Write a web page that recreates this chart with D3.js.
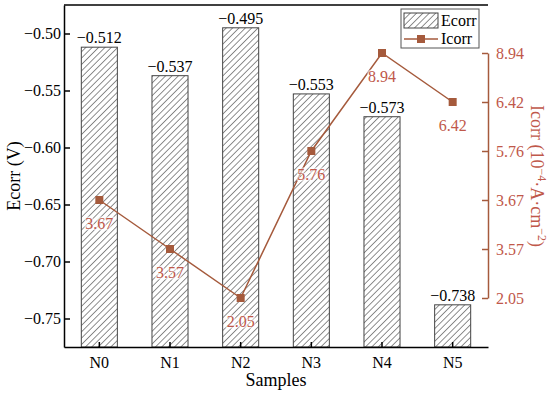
<html>
<head>
<meta charset="utf-8">
<script src="https://d3js.org/d3.v7.min.js"></script>
<style>
  body { margin: 0; background: #fff; }
  svg text { font-family: "Liberation Serif", "Times New Roman", serif; }
</style>
</head>
<body>
<div id="chart"></div>
<script>
// data
var samples = ["N0", "N1", "N2", "N3", "N4", "N5"];
var ecorr = [-0.512, -0.537, -0.495, -0.553, -0.573, -0.738];
var icorr = [3.67, 3.57, 2.05, 5.76, 8.94, 6.42];
var leftTicks = [-0.50, -0.55, -0.60, -0.65, -0.70, -0.75];
// right axis is ranked, labels are just the values sorted
var rightTicks = icorr.slice().sort(function(a, b) { return a - b; });

var W = 550, H = 393;
var margin = {top: 5, right: 62, bottom: 46, left: 64};
var width = W - margin.left - margin.right;
var height = H - margin.top - margin.bottom;
var brown = "#a55a3c";
var redText = "#c0584a";
var serif = "Liberation Serif, Times New Roman, serif";

var svg = d3.select("#chart").append("svg")
    .attr("width", W).attr("height", H)
    .attr("font-family", serif);

var defs = svg.append("defs");
var pat = defs.append("pattern")
    .attr("id", "hatch")
    .attr("patternUnits", "userSpaceOnUse")
    .attr("width", 4.5).attr("height", 4.5)
    .attr("patternTransform", "rotate(45)");
pat.append("rect").attr("width", 4.5).attr("height", 4.5).attr("fill", "#fff");
pat.append("line")
    .attr("x1", 0).attr("y1", 0).attr("x2", 0).attr("y2", 4.5)
    .attr("stroke", "#333").attr("stroke-width", 1.1);

var g = svg.append("g")
    .attr("transform", "translate(" + margin.left + "," + margin.top + ")");

var x = d3.scaleBand().domain(samples).range([0, width])
    .paddingInner(0.49).paddingOuter(0.245);
var y = d3.scaleLinear().domain([-0.775, -0.475]).range([height, 0]);
var y2 = d3.scalePoint().domain(rightTicks).range([293, 48]);

// bars
g.selectAll("rect.bar")
    .data(ecorr)
    .enter().append("rect")
    .attr("class", "bar")
    .attr("x", function(d, i) { return x(samples[i]); })
    .attr("width", x.bandwidth())
    .attr("y", function(d) { return y(d); })
    .attr("height", function(d) { return height - y(d); })
    .attr("fill", "url(#hatch)")
    .attr("stroke", "#444")
    .attr("stroke-width", 1);

g.selectAll("text.blab")
    .data(ecorr)
    .enter().append("text")
    .attr("class", "blab")
    .attr("x", function(d, i) { return x(samples[i]) + x.bandwidth() / 2; })
    .attr("y", function(d) { return y(d) - 4; })
    .attr("text-anchor", "middle")
    .attr("font-size", 16)
    .text(function(d) { return d3.format(".3f")(d).replace("-", "\u2212"); });

// line
var line = d3.line()
    .x(function(d, i) { return x(samples[i]) + x.bandwidth() / 2; })
    .y(function(d) { return y2(d); });

g.append("path")
    .attr("d", line(icorr))
    .attr("fill", "none")
    .attr("stroke", brown)
    .attr("stroke-width", 1.5);

g.selectAll("rect.pt")
    .data(icorr)
    .enter().append("rect")
    .attr("class", "pt")
    .attr("x", function(d, i) { return x(samples[i]) + x.bandwidth() / 2 - 4; })
    .attr("y", function(d) { return y2(d) - 4; })
    .attr("width", 8).attr("height", 8)
    .attr("fill", brown);

g.selectAll("text.ilab")
    .data(icorr)
    .enter().append("text")
    .attr("class", "ilab")
    .attr("x", function(d, i) { return x(samples[i]) + x.bandwidth() / 2; })
    .attr("y", function(d) { return y2(d) + 29; })
    .attr("text-anchor", "middle")
    .attr("font-size", 16)
    .attr("fill", redText)
    .attr("stroke", "#fff").attr("stroke-width", 3).attr("stroke-opacity", 0.6)
    .attr("paint-order", "stroke")
    .text(function(d) { return d3.format(".2f")(d); });

// axes
var xAxis = g.append("g")
    .attr("transform", "translate(0," + height + ")")
    .call(d3.axisBottom(x).tickSizeInner(-5).tickSizeOuter(0).tickPadding(10));
var yAxis = g.append("g")
    .call(d3.axisLeft(y).tickValues(leftTicks).tickFormat(function(d) {
        return d3.format(".2f")(d).replace("-", "\u2212");
    }).tickSizeInner(-6).tickSizeOuter(0).tickPadding(3));
var yAxis2 = g.append("g")
    .attr("transform", "translate(" + width + ",0)")
    .call(d3.axisRight(y2).tickFormat(d3.format(".2f")).tickSizeInner(-6).tickSizeOuter(0).tickPadding(8));

[xAxis, yAxis, yAxis2].forEach(function(a) { a.attr("font-family", serif); });
[xAxis, yAxis].forEach(function(a) {
    a.selectAll("text").attr("font-size", 16).attr("fill", "#000");
    a.selectAll("line, path").attr("stroke", "#000").attr("stroke-width", 1.5);
});
yAxis2.selectAll("text").attr("font-size", 16).attr("fill", redText);
yAxis2.selectAll("line, path").attr("stroke", brown).attr("stroke-width", 1.5);

// top frame line
g.append("line")
    .attr("x1", 0).attr("x2", width).attr("y1", 0).attr("y2", 0)
    .attr("stroke", "#000").attr("stroke-width", 1.5);

// titles
svg.append("text")
    .attr("transform", "translate(20," + (margin.top + height / 2) + ") rotate(-90)")
    .attr("text-anchor", "middle")
    .attr("font-size", 18)
    .text("Ecorr (V)");

svg.append("text")
    .attr("x", margin.left + width / 2)
    .attr("y", 386)
    .attr("text-anchor", "middle")
    .attr("font-size", 18)
    .text("Samples");

var rt = svg.append("text")
    .attr("transform", "translate(531," + (margin.top + height / 2) + ") rotate(90)")
    .attr("text-anchor", "middle")
    .attr("font-size", 18)
    .attr("fill", redText);
rt.append("tspan").text("Icorr (10");
rt.append("tspan").attr("dy", -7).attr("font-size", 12).text("\u22124");
rt.append("tspan").attr("dy", 7).text("\u00b7A\u00b7cm");
rt.append("tspan").attr("dy", -7).attr("font-size", 12).text("\u22122");
rt.append("tspan").attr("dy", 7).text(")");

// legend
var lg = svg.append("g").attr("transform", "translate(401,9)");
lg.append("rect").attr("width", 78).attr("height", 39)
    .attr("fill", "#fff").attr("stroke", "#555").attr("stroke-width", 1);
lg.append("rect").attr("x", 3).attr("y", 4).attr("width", 34).attr("height", 15)
    .attr("fill", "url(#hatch)").attr("stroke", "#444");
lg.append("text").attr("x", 40).attr("y", 17).attr("font-size", 16).text("Ecorr");
lg.append("line").attr("x1", 3).attr("x2", 37).attr("y1", 30).attr("y2", 30)
    .attr("stroke", brown).attr("stroke-width", 1.5);
lg.append("rect").attr("x", 16).attr("y", 26).attr("width", 8).attr("height", 8).attr("fill", brown);
lg.append("text").attr("x", 40).attr("y", 35).attr("font-size", 16).text("Icorr");
</script>
</body>
</html>
